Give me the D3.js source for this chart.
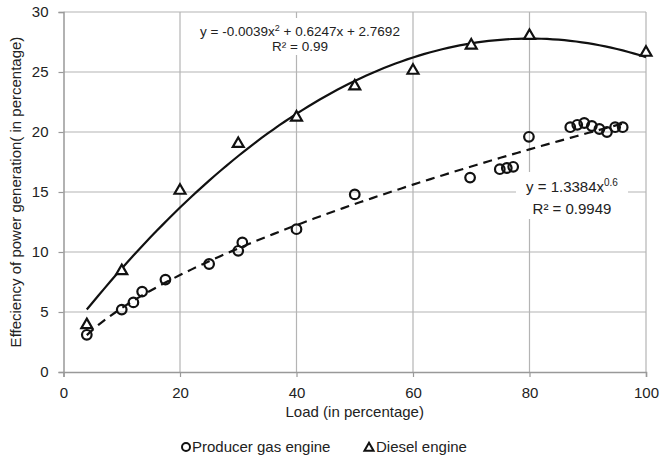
<!DOCTYPE html>
<html lang="en">
<head>
<meta charset="UTF-8">
<title>Efficiency vs Load</title>
<script src="https://d3js.org/d3.v7.min.js"></script>
<style>
  html, body { margin: 0; padding: 0; background: #fff; }
  svg text { font-family: "Liberation Sans", Arial, sans-serif; fill: #222; }
</style>
</head>
<body>
<svg id="chart" width="662" height="464"></svg>
<script>
// producer gas engine readings (load %, efficiency %)
const gasLoad = [4, 10, 12, 13.5, 17.5, 25, 30, 30.7, 40, 50, 69.8, 74.9, 76.1, 77.2, 79.9, 87, 88.2, 89.4, 90.7, 92, 93.3, 94.7, 96];
const gasEff  = [3.1, 5.2, 5.8, 6.7, 7.7, 9.0, 10.1, 10.8, 11.9, 14.8, 16.2, 16.9, 17.0, 17.1, 19.6, 20.4, 20.6, 20.75, 20.5, 20.25, 20.0, 20.4, 20.4];

// diesel engine readings
const dieselLoad = [4, 10, 20, 30, 40, 50, 60, 70, 80, 100];
const dieselEff  = [4.0, 8.5, 15.2, 19.1, 21.3, 23.9, 25.2, 27.3, 28.1, 26.7];

// trendline coefficients as printed on the chart
const polyCoef = [-0.0039, 0.6247, 2.7692];
const powerCoef = [1.3384, 0.6];

const xTicks = [0, 20, 40, 60, 80, 100];
const yTicks = [0, 5, 10, 15, 20, 25, 30];

const svg = d3.select("#chart");
const margin = {left: 63.5, right: 16, top: 12, bottom: 92};
const W = 662, H = 464;

const x = d3.scaleLinear().domain([0, 100]).range([margin.left, W - margin.right]);
const y = d3.scaleLinear().domain([0, 30]).range([H - margin.bottom, margin.top]);

const gridColor = "#b4b4b4";

// gridlines
svg.append("g").selectAll("line.v").data(xTicks.slice(1)).join("line")
  .attr("x1", d => x(d)).attr("x2", d => x(d))
  .attr("y1", y(0)).attr("y2", y(30))
  .attr("stroke", gridColor).attr("stroke-width", 1.2);
svg.append("g").selectAll("line.h").data(yTicks.slice(1)).join("line")
  .attr("x1", x(0)).attr("x2", x(100))
  .attr("y1", d => y(d)).attr("y2", d => y(d))
  .attr("stroke", gridColor).attr("stroke-width", 1.2);

// axes
const xAxis = svg.append("g").attr("transform", `translate(0,${y(0)})`)
  .call(d3.axisBottom(x).tickValues(xTicks).tickSize(5).tickPadding(10));
const yAxis = svg.append("g").attr("transform", `translate(${x(0)},0)`)
  .call(d3.axisLeft(y).tickValues(yTicks).tickSize(5).tickPadding(10));
[xAxis, yAxis].forEach(a => {
  a.select(".domain").attr("stroke", "#999").attr("stroke-width", 1.5);
  a.selectAll(".tick line").attr("stroke", "#999").attr("stroke-width", 1.2);
  a.selectAll(".tick text").attr("font-size", 15).attr("fill", "#222")
    .attr("font-family", "'Liberation Sans', Arial, sans-serif");
});

// trendlines
const polyData = d3.range(4, 100.01, 1).map(v => [v, polyCoef[0] * v * v + polyCoef[1] * v + polyCoef[2]]);
const powerData = d3.range(4, 96.01, 1).map(v => [v, powerCoef[0] * Math.pow(v, powerCoef[1])]);
const line = d3.line().x(d => x(d[0])).y(d => y(d[1]));

svg.append("path").datum(powerData).attr("d", line)
  .attr("fill", "none").attr("stroke", "#111").attr("stroke-width", 2.2)
  .attr("stroke-dasharray", "9,6");
svg.append("path").datum(polyData).attr("d", line)
  .attr("fill", "none").attr("stroke", "#111").attr("stroke-width", 2.2);

// markers
const tri = d3.symbol().type(d3.symbolTriangle).size(52);
svg.append("g").selectAll("path").data(dieselLoad).join("path")
  .attr("d", tri)
  .attr("transform", (d, i) => `translate(${x(d)},${y(dieselEff[i]) + 1})`)
  .attr("fill", "#fff").attr("stroke", "#111").attr("stroke-width", 2.2);
svg.append("g").selectAll("circle").data(gasLoad).join("circle")
  .attr("cx", d => x(d)).attr("cy", (d, i) => y(gasEff[i]))
  .attr("r", 4.8)
  .attr("fill", "none").attr("stroke", "#111").attr("stroke-width", 2.2);

// equation labels
const polyLbl = svg.append("g");
polyLbl.append("rect").attr("x", 195).attr("y", 18).attr("width", 211).attr("height", 37).attr("fill", "#fff");
const pt1 = polyLbl.append("text").attr("x", 300).attr("y", 36).attr("text-anchor", "middle").attr("font-size", 13.5);
pt1.append("tspan").text("y = -0.0039x");
pt1.append("tspan").text("2").attr("font-size", 9).attr("dy", -5);
pt1.append("tspan").text(" + 0.6247x + 2.7692").attr("dy", 5);
polyLbl.append("text").attr("x", 300).attr("y", 51).attr("text-anchor", "middle").attr("font-size", 13.5).text("R² = 0.99");

const powLbl = svg.append("g");
powLbl.append("rect").attr("x", 516).attr("y", 172).attr("width", 112).attr("height", 47).attr("fill", "#fff");
const pt2 = powLbl.append("text").attr("x", 572).attr("y", 192).attr("text-anchor", "middle").attr("font-size", 15);
pt2.append("tspan").text("y = 1.3384x");
pt2.append("tspan").text("0.6").attr("font-size", 10).attr("dy", -6);
powLbl.append("text").attr("x", 572).attr("y", 214).attr("text-anchor", "middle").attr("font-size", 15).text("R² = 0.9949");

// axis titles
svg.append("text").attr("x", x(50)).attr("y", 417).attr("text-anchor", "middle")
  .attr("font-size", 15).text("Load (in percentage)");
svg.append("text").attr("transform", `translate(21,${y(15)}) rotate(-90)`).attr("text-anchor", "middle")
  .attr("font-size", 15).text("Effeciency of power generation( in percentage)");

// legend
const leg = svg.append("g").attr("transform", "translate(0,447)");
leg.append("circle").attr("cx", 186).attr("cy", 0).attr("r", 4).attr("fill", "none").attr("stroke", "#111").attr("stroke-width", 2);
leg.append("text").attr("x", 192).attr("y", 5).attr("font-size", 15).text("Producer gas engine");
leg.append("path").attr("d", d3.symbol().type(d3.symbolTriangle).size(36)).attr("transform", "translate(369,1)")
  .attr("fill", "#fff").attr("stroke", "#111").attr("stroke-width", 2);
leg.append("text").attr("x", 376).attr("y", 5).attr("font-size", 15).text("Diesel engine");
</script>
</body>
</html>
